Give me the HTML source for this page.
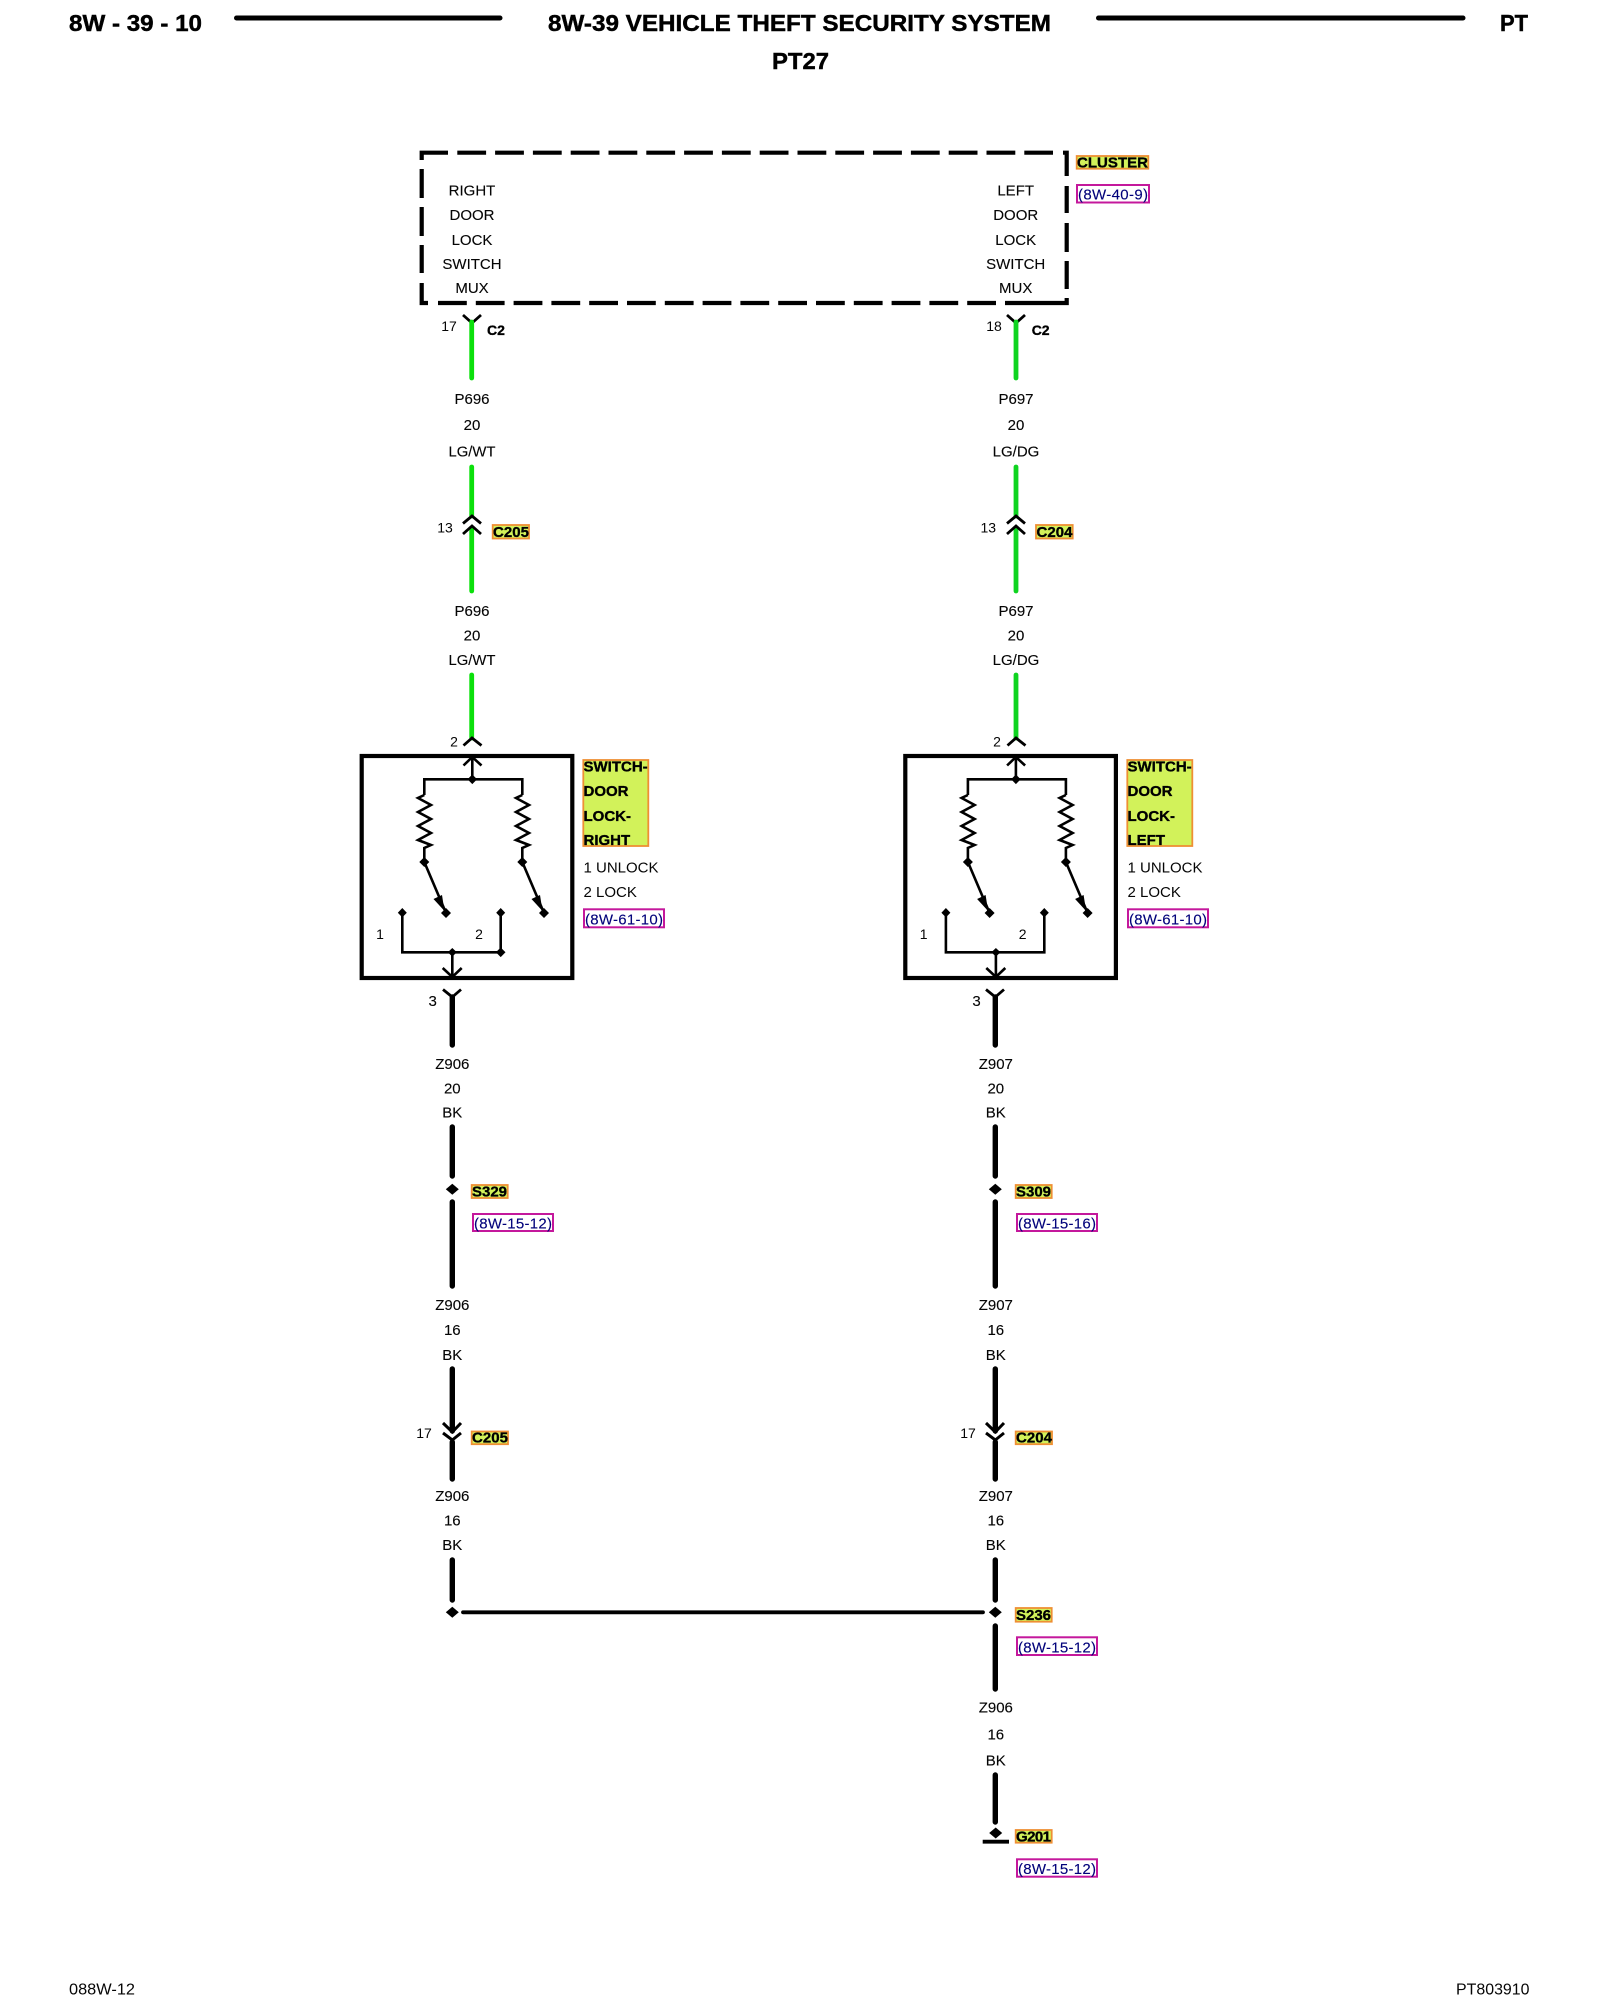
<!DOCTYPE html>
<html><head><meta charset="utf-8"><style>
html,body{margin:0;padding:0;background:#fff;width:1600px;height:2000px;overflow:hidden}
svg{display:block;filter:blur(.35px)}
text{font-family:"Liberation Sans",sans-serif;fill:#050505}
.t{font-size:15px;text-anchor:middle;stroke:#000;stroke-width:.12}
.n{font-size:14px;text-anchor:middle}
.b{font-size:15px;font-weight:bold;fill:#000;stroke:#000;stroke-width:.35}
.h{font-size:23px;font-weight:bold;fill:#000;stroke:#000;stroke-width:.45}
.r{font-size:15px;fill:#00007a;stroke:#00007a;stroke-width:.12}
.f{font-size:16px}
.g{stroke:#0be00b;stroke-width:4.8;stroke-linecap:round;fill:none}
.g2{stroke:#0fd420;stroke-width:4.8;stroke-linecap:round;fill:none}
.k{stroke:#000;stroke-width:5.4;stroke-linecap:round;fill:none}
.c{stroke:#000;stroke-width:2.8;fill:none}
.s{stroke:#000;stroke-width:2.6;fill:none}
.y{fill:#d2f25a;stroke:#ee8f34;stroke-width:1.8}
.m{fill:#fff;stroke:#c4189c;stroke-width:2}
.d{stroke:#000;stroke-width:4.2;fill:none}
.da{stroke-dasharray:28.8 9}
</style></head><body>
<svg width="1600" height="2000" viewBox="0 0 1600 2000" xmlns="http://www.w3.org/2000/svg">
<defs>
<g id="sw">
<rect x="361.7" y="756" width="210.6" height="222" fill="none" stroke="#000" stroke-width="4.2"/>
<path class="s" d="M463.5 765.5L472.3 757L481.5 765.5M472.3 757V779M424.3 795V779.3H522.3V795"/>
<path class="s" d="M424.3 795L418 798L431 805L418 812L431 819L418 826L431 833L418 840L431 845L424.3 848V862L446 913"/>
<path class="s" d="M522.3 795L516 798L529 805L516 812L529 819L516 826L529 833L516 840L529 845L522.3 848V862L544 913"/>
<path d="M433.5 899L442 895L444.5 911ZM531.5 899L540 895L542.5 911Z" fill="#000"/>
<path d="M424.3 857l5 5l-5 5l-5-5zM522.3 857l5 5l-5 5l-5-5zM446 908l5 5l-5 5l-5-5zM544 908l5 5l-5 5l-5-5zM402.3 908l4.5 4.7l-4.5 4.7l-4.5-4.7zM500.7 908l4.5 4.7l-4.5 4.7l-4.5-4.7zM472.3 774.5l4.8 4.8l-4.8 4.8l-4.8-4.8zM452.3 948l4.5 4.3l-4.5 4.3l-4.5-4.3z" fill="#000"/>
<path class="s" d="M402.3 913V952.3H500.7V913M452.3 952.3V977M442.7 968L452.3 977L461.7 968"/>
</g>
<path id="dm" d="M0-5.5L6.5 0L0 5.5L-6.5 0Z" fill="#000"/>
</defs>

<!-- header -->
<text class="h" x="69" y="31" textLength="133" lengthAdjust="spacingAndGlyphs">8W - 39 - 10</text>
<line x1="236.5" y1="18" x2="500" y2="18" stroke="#000" stroke-width="5" stroke-linecap="round"/>
<text class="h" x="548" y="31" textLength="503" lengthAdjust="spacingAndGlyphs">8W-39 VEHICLE THEFT SECURITY SYSTEM</text>
<line x1="1098.5" y1="18" x2="1463" y2="18" stroke="#000" stroke-width="5" stroke-linecap="round"/>
<text class="h" x="1500" y="31" textLength="28" lengthAdjust="spacingAndGlyphs">PT</text>
<text class="h" x="772" y="69" textLength="57" lengthAdjust="spacingAndGlyphs">PT27</text>

<!-- cluster dashed box -->
<path class="d" d="M448 152.7H421.7V160M1063 152.7H1066.7V176M1066.7 186V213M1066.7 223V252M1066.7 261V289M1066.7 298V303H1033M428 303H421.7V283M421.7 273V245M421.7 236V207M421.7 198V169"/>
<line class="d da" x1="457.3" y1="152.7" x2="1053" y2="152.7"/>
<line class="d da" x1="438" y1="303" x2="1033" y2="303"/>
<text class="t" x="472" y="195.5">RIGHT</text><text class="t" x="472" y="220">DOOR</text><text class="t" x="472" y="245">LOCK</text><text class="t" x="472" y="269">SWITCH</text><text class="t" x="472" y="293">MUX</text>
<text class="t" x="1015.7" y="195.5">LEFT</text><text class="t" x="1015.7" y="220">DOOR</text><text class="t" x="1015.7" y="245">LOCK</text><text class="t" x="1015.7" y="269">SWITCH</text><text class="t" x="1015.7" y="293">MUX</text>
<rect class="y" x="1076.7" y="156" width="71.6" height="12.7"/><text class="b" x="1077" y="167.5" textLength="71">CLUSTER</text>
<rect class="m" x="1077" y="185" width="72" height="17.5"/><text class="r" x="1078" y="199.5" textLength="70">(8W-40-9)</text>

<!-- top connectors -->
<path class="c" d="M463 315L472 323L481 315"/>
<path class="c" d="M1007 315L1016 323L1025 315"/>
<line class="g" x1="471.7" y1="322" x2="471.7" y2="378"/>
<line class="g2" x1="1016" y1="322" x2="1016" y2="378"/>
<text class="n" x="449" y="331">17</text><text class="n" x="994" y="331">18</text>
<text class="b" x="487" y="335" style="font-size:14px">C2</text><text class="b" x="1031.7" y="335" style="font-size:14px">C2</text>

<text class="t" x="472" y="404">P696</text><text class="t" x="472" y="430">20</text><text class="t" x="472" y="456.5" textLength="47" lengthAdjust="spacingAndGlyphs">LG/WT</text>
<text class="t" x="1016" y="404">P697</text><text class="t" x="1016" y="430">20</text><text class="t" x="1016" y="456.5">LG/DG</text>

<line class="g" x1="471.7" y1="467" x2="471.7" y2="516"/>
<line class="g2" x1="1016" y1="467" x2="1016" y2="516"/>
<line class="g" x1="471.7" y1="528" x2="471.7" y2="591"/>
<line class="g2" x1="1016" y1="528" x2="1016" y2="591"/>
<path class="c" d="M463 523.5L472 516L481 523.5M463 534L472 526L481 534"/>
<path class="c" d="M1007 523.5L1016 516L1025 523.5M1007 534L1016 526L1025 534"/>
<text class="n" x="445" y="532.5">13</text><text class="n" x="988.3" y="532.5">13</text>
<rect class="y" x="492.7" y="525" width="36.3" height="13.5"/><text class="b" x="493" y="537" textLength="36">C205</text>
<rect class="y" x="1036" y="525" width="36.7" height="13.5"/><text class="b" x="1036.5" y="537" textLength="36">C204</text>

<text class="t" x="472" y="616">P696</text><text class="t" x="472" y="640.5">20</text><text class="t" x="472" y="665" textLength="47" lengthAdjust="spacingAndGlyphs">LG/WT</text>
<text class="t" x="1016" y="616">P697</text><text class="t" x="1016" y="640.5">20</text><text class="t" x="1016" y="665">LG/DG</text>

<line class="g" x1="471.7" y1="675" x2="471.7" y2="738"/>
<line class="g2" x1="1016" y1="675" x2="1016" y2="738"/>
<path class="c" d="M463.5 745.5L472 738L481.5 745.5"/><path class="c" d="M1007.5 745.5L1016 738L1025.5 745.5"/>
<text class="n" x="454" y="746.5">2</text><text class="n" x="997" y="746.5">2</text>

<!-- switches -->
<use href="#sw"/>
<path d="M500.7 947.5l4.8 4.8l-4.8 4.8l-4.8-4.8z" fill="#000"/>
<use href="#sw" x="543.6"/>
<text class="n" x="380" y="939">1</text><text class="n" x="479" y="939">2</text>
<text class="n" x="923.6" y="939">1</text><text class="n" x="1022.6" y="939">2</text>

<rect class="y" x="583.3" y="760" width="65" height="86"/>
<text class="b" x="583.5" y="771.5">SWITCH-</text><text class="b" x="583.5" y="796">DOOR</text><text class="b" x="583.5" y="821">LOCK-</text><text class="b" x="583.5" y="845">RIGHT</text>
<text x="583.5" y="872.7" style="font-size:15px">1 UNLOCK</text><text x="583.5" y="897" style="font-size:15px">2 LOCK</text>
<rect class="m" x="584" y="909.3" width="80" height="18"/><text class="r" x="585" y="924.5" textLength="78">(8W-61-10)</text>

<rect class="y" x="1127.3" y="760" width="65" height="86"/>
<text class="b" x="1127.5" y="771.5">SWITCH-</text><text class="b" x="1127.5" y="796">DOOR</text><text class="b" x="1127.5" y="821">LOCK-</text><text class="b" x="1127.5" y="845">LEFT</text>
<text x="1127.5" y="872.7" style="font-size:15px">1 UNLOCK</text><text x="1127.5" y="897" style="font-size:15px">2 LOCK</text>
<rect class="m" x="1128" y="909.3" width="80" height="18"/><text class="r" x="1129" y="924.5" textLength="78">(8W-61-10)</text>

<!-- left lower -->
<path class="c" d="M443 989.5L452.3 997L461 989.5"/><line class="k" x1="452.3" y1="997" x2="452.3" y2="1045"/>
<text class="t" x="432.7" y="1006">3</text>
<text class="t" x="452.3" y="1069">Z906</text><text class="t" x="452.3" y="1093.3">20</text><text class="t" x="452.3" y="1117.7">BK</text>
<line class="k" x1="452.3" y1="1127" x2="452.3" y2="1176"/>
<use href="#dm" x="452.3" y="1189.3"/>
<line class="k" x1="452.3" y1="1202" x2="452.3" y2="1286"/>
<rect class="y" x="471.7" y="1185" width="36" height="13"/><text class="b" x="472" y="1196.5" textLength="35">S329</text>
<rect class="m" x="473" y="1214" width="80" height="17"/><text class="r" x="474" y="1228.5" textLength="78">(8W-15-12)</text>
<text class="t" x="452.3" y="1310">Z906</text><text class="t" x="452.3" y="1335">16</text><text class="t" x="452.3" y="1360">BK</text>
<line class="k" x1="452.3" y1="1369" x2="452.3" y2="1431"/>
<path class="c" style="stroke-width:3" d="M443 1423L452.3 1432L461 1423M443 1433L452.3 1440L461 1433"/>
<line class="k" x1="452.3" y1="1442" x2="452.3" y2="1479"/>
<text class="n" x="424" y="1438">17</text>
<rect class="y" x="471.7" y="1431.5" width="36.3" height="12.7"/><text class="b" x="472" y="1442.7" textLength="36">C205</text>
<text class="t" x="452.3" y="1501">Z906</text><text class="t" x="452.3" y="1525.5">16</text><text class="t" x="452.3" y="1550">BK</text>
<line class="k" x1="452.3" y1="1560" x2="452.3" y2="1600"/>
<use href="#dm" x="452.3" y="1612.3"/>
<line x1="463" y1="1612.3" x2="983" y2="1612.3" stroke="#000" stroke-width="3.8" stroke-linecap="round"/>

<!-- right lower -->
<path class="c" d="M986 989.5L995.3 997L1004 989.5"/><line class="k" x1="995.3" y1="997" x2="995.3" y2="1045"/>
<text class="t" x="976.5" y="1006">3</text>
<text class="t" x="995.8" y="1069">Z907</text><text class="t" x="995.8" y="1093.3">20</text><text class="t" x="995.8" y="1117.7">BK</text>
<line class="k" x1="995.3" y1="1127" x2="995.3" y2="1176"/>
<use href="#dm" x="995.3" y="1189.3"/>
<line class="k" x1="995.3" y1="1202" x2="995.3" y2="1286"/>
<rect class="y" x="1015.7" y="1185" width="36" height="13"/><text class="b" x="1016" y="1196.5" textLength="35">S309</text>
<rect class="m" x="1017" y="1214" width="80" height="17"/><text class="r" x="1018" y="1228.5" textLength="78">(8W-15-16)</text>
<text class="t" x="995.8" y="1310">Z907</text><text class="t" x="995.8" y="1335">16</text><text class="t" x="995.8" y="1360">BK</text>
<line class="k" x1="995.3" y1="1369" x2="995.3" y2="1431"/>
<path class="c" style="stroke-width:3" d="M986 1423L995.3 1432L1004 1423M986 1433L995.3 1440L1004 1433"/>
<line class="k" x1="995.3" y1="1442" x2="995.3" y2="1479"/>
<text class="n" x="968" y="1438">17</text>
<rect class="y" x="1015.7" y="1431.5" width="36.3" height="12.7"/><text class="b" x="1016" y="1442.7" textLength="36">C204</text>
<text class="t" x="995.8" y="1501">Z907</text><text class="t" x="995.8" y="1525.5">16</text><text class="t" x="995.8" y="1550">BK</text>
<line class="k" x1="995.3" y1="1560" x2="995.3" y2="1600"/>
<use href="#dm" x="995.3" y="1612.3"/>
<rect class="y" x="1015.7" y="1608" width="36" height="13.7"/><text class="b" x="1016" y="1620" textLength="35">S236</text>
<rect class="m" x="1017" y="1637.3" width="80" height="17.7"/><text class="r" x="1018" y="1652.5" textLength="78">(8W-15-12)</text>
<line class="k" x1="995.3" y1="1626" x2="995.3" y2="1689"/>
<text class="t" x="995.8" y="1712.5">Z906</text><text class="t" x="995.8" y="1739.5">16</text><text class="t" x="995.8" y="1765.5">BK</text>
<line class="k" x1="995.3" y1="1775" x2="995.3" y2="1822"/>
<use href="#dm" x="995.7" y="1833"/>
<line x1="982.7" y1="1841.7" x2="1009" y2="1841.7" stroke="#000" stroke-width="3.8"/>
<rect class="y" x="1015.7" y="1830" width="36" height="12.7"/><text class="b" x="1016" y="1841.5" textLength="35">G201</text>
<rect class="m" x="1017" y="1859.3" width="80" height="17.4"/><text class="r" x="1018" y="1874" textLength="78">(8W-15-12)</text>

<!-- footer -->
<text class="f" x="69" y="1994.5" textLength="66" lengthAdjust="spacingAndGlyphs">088W-12</text>
<text class="f" x="1456" y="1994.5" textLength="73.5" lengthAdjust="spacingAndGlyphs">PT803910</text>
</svg>
</body></html>
